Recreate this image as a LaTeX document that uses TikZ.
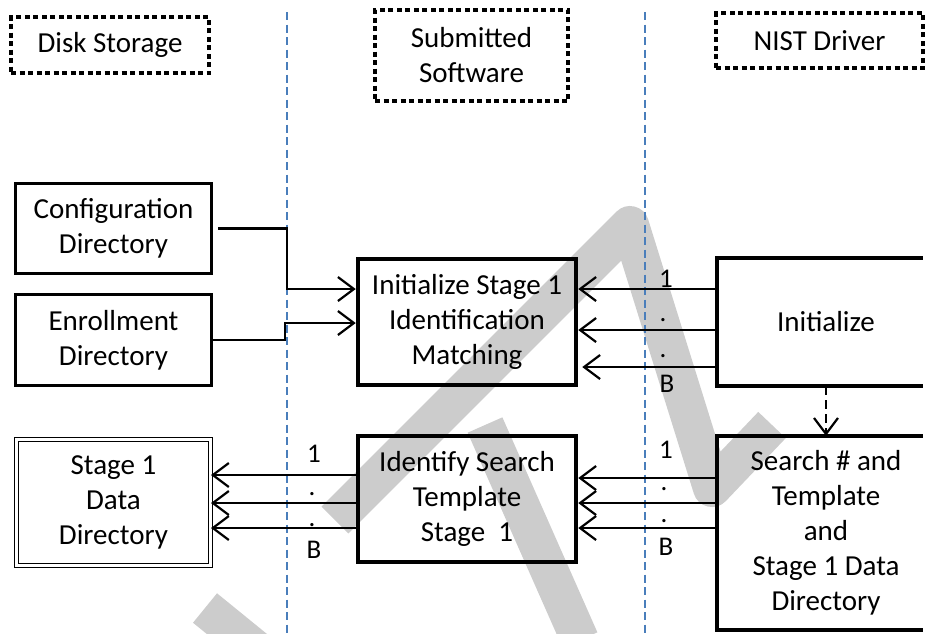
\documentclass[tikz,border=0pt]{standalone}
\usepackage{fontspec}
\setmainfont{Carlito}
\usetikzlibrary{arrows.meta}
\definecolor{sepblue}{RGB}{74,126,187}
\definecolor{wmgray}{RGB}{204,204,204}
\begin{document}
\begin{tikzpicture}[x=1pt,y=-1pt,
  every node/.style={font=\fontsize{29}{35}\selectfont, inner sep=0pt, align=center},
  hdrbox/.style={draw, line width=4pt, dash pattern=on 5pt off 3.5pt},
  sbox/.style={draw, line width=3.5pt},
  mbox/.style={draw, line width=4.5pt},
  dbox/.style={draw, line width=1pt, double, double distance=2.5pt},
  conn/.style={line width=2.2pt},
  arr/.style={conn, -{Straight Barb[length=16pt,width=24pt]}},
  dasharr/.style={arr, dash pattern=on 9pt off 5pt},
  sep/.style={draw=sepblue, line width=1.5pt, dash pattern=on 8pt off 4.5pt},
  wm/.style={draw=wmgray, line width=38pt},
  lbl/.style={anchor=base, font=\fontsize{27}{32}\selectfont}]
\useasboundingbox (0,0) rectangle (925,633);
% watermark strokes
\begin{scope}
\clip (0,0) rectangle (925,633);
\draw[wm, line join=round] (335,520) -- (630,225) -- (712,488) -- (772,425);
\draw[wm] (485,425) -- (580,640);
\draw[wm] (205,608) -- (275,665);
\end{scope}
% lane separators
\coordinate (s1t) at (287,12); \coordinate (s1b) at (287,633);
\coordinate (s2t) at (645,12); \coordinate (s2b) at (645,633);
\draw[sep] (s1t) -- (s1b);
\draw[sep] (s2t) -- (s2b);
% header boxes
\node[hdrbox, minimum width=198pt, minimum height=56pt] (disk) at (110,45) {Disk Storage};
\node[hdrbox, minimum width=193pt, minimum height=91pt] (soft) at (471.5,55.5) {Submitted\\Software};
\node[hdrbox, minimum width=207pt, minimum height=55pt] (nist) at (819.5,40.5) {NIST Driver};
% disk storage boxes
\node[sbox, minimum width=196pt, minimum height=90pt] (conf) at (113.5,228.5) {Configuration\\Directory};
\node[sbox, minimum width=196pt, minimum height=91pt] (enr) at (113.5,340) {Enrollment\\Directory};
\node[dbox, minimum width=194pt, minimum height=126pt] (data) at (113.5,502.5) {Stage 1\\Data\\Directory};
% submitted software boxes
\node[mbox, minimum width=218pt, minimum height=126pt] (initS) at (467,322) {Initialize Stage 1\\Identification\\Matching};
\node[mbox, minimum width=218pt, minimum height=126pt] (ident) at (467,499) {Identify Search\\Template\\Stage~\ 1};
% NIST driver boxes (reach the right edge of the picture)
\node[minimum width=218pt, minimum height=128pt] (init) at (826,322) {Initialize};
\draw[mbox] (init.north west) ++(206,0) -- (init.north west) -- (init.south west) -- ++(206,0);
\node[minimum width=218pt, minimum height=194pt] (search) at (826,533) {Search \# and\\Template\\and\\Stage 1 Data\\Directory};
\draw[sbox] (search.north west) ++(206,0) -- (search.north west) -- (search.south west) -- ++(206,0);
% helper coordinates
\coordinate (c1) at (287,289);
\coordinate (c2) at (285,323);
% inputs to Initialize Stage 1
\draw[arr] ([xshift=5pt]conf.east) -| (c1) -- (c1 -| initS.west);
\draw[arr] (enr.east) -| (c2) -- (c2 -| initS.west);
% Initialize -> Initialize Stage 1
\draw[arr] (init.west |- 0,289) -- (initS.east |- 0,289);
\draw[arr] (init.west |- 0,330) -- (initS.east |- 0,330);
\draw[arr] (init.west |- 0,367) -- ([xshift=4pt]initS.east |- 0,367);
\node[lbl] (t1) at (666,287) {1};
\node[lbl] (t2) at (663,321) {.};
\node[lbl] (t3) at (663,357) {.};
\node[lbl] (t4) at (667,392) {B};
% Initialize -> Search (dashed)
\draw[dasharr] (init.south) -- (search.north);
% Search -> Identify
\draw[arr] (search.west |- 0,478) -- (ident.east |- 0,478);
\draw[arr] (search.west |- 0,503) -- (ident.east |- 0,503);
\draw[arr] (search.west |- 0,528) -- (ident.east |- 0,528);
\node[lbl] (r1) at (666,458) {1};
\node[lbl] (r2) at (664,490) {.};
\node[lbl] (r3) at (664,522) {.};
\node[lbl] (r4) at (666,555) {B};
% Identify -> Stage 1 Data Directory
\draw[arr] (ident.west |- 0,475) -- (data.east |- 0,475);
\draw[arr] (ident.west |- 0,503) -- (data.east |- 0,503);
\draw[arr] (ident.west |- 0,528) -- (data.east |- 0,528);
\node[lbl] (l1) at (314,462) {1};
\node[lbl] (l2) at (312,495) {.};
\node[lbl] (l3) at (312,526) {.};
\node[lbl] (l4) at (314,558) {B};
\end{tikzpicture}
\end{document}
